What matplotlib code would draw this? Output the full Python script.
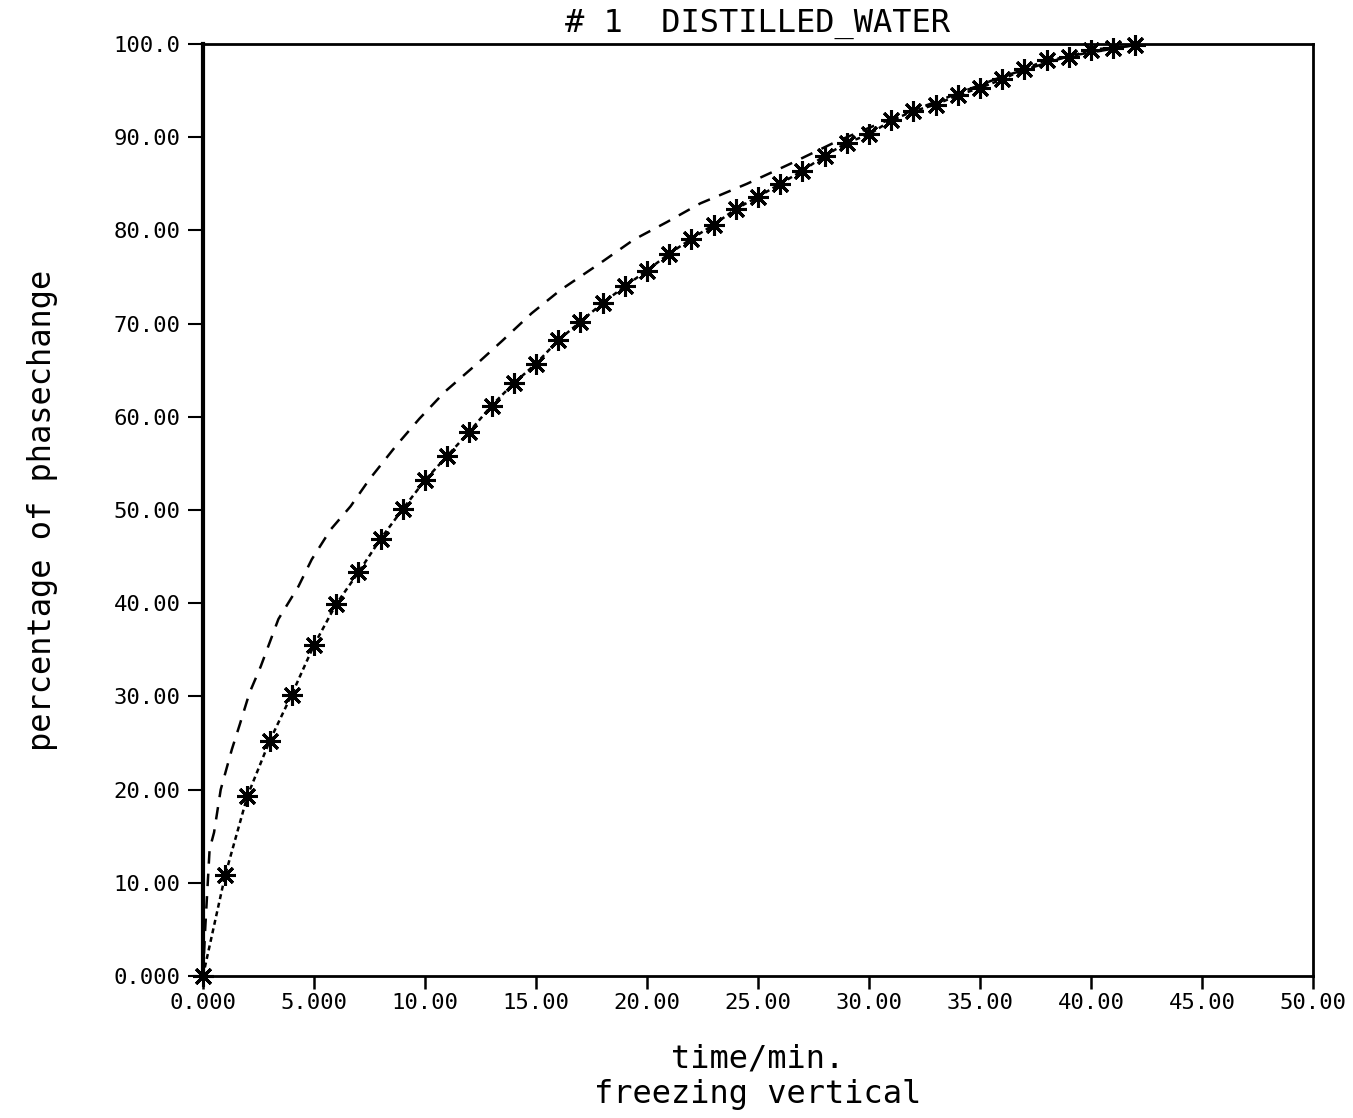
import matplotlib
matplotlib.use('Agg')
import matplotlib.pyplot as plt

# measured curve (asterisks), one reading per minute
time_min = [0, 1, 2, 3, 4, 5, 6, 7, 8, 9, 10, 11, 12, 13, 14, 15, 16, 17, 18, 19, 20,
            21, 22, 23, 24, 25, 26, 27, 28, 29, 30, 31, 32, 33, 34, 35, 36, 37, 38, 39,
            40, 41, 42]
pct_measured = [0.0, 10.8, 19.3, 25.2, 30.2, 35.5, 39.9, 43.3, 46.9, 50.1, 53.2, 55.8,
                58.4, 61.2, 63.6, 65.7, 68.2, 70.2, 72.2, 74.0, 75.7, 77.5, 79.1, 80.6,
                82.3, 83.6, 85.0, 86.4, 88.0, 89.4, 90.3, 91.8, 92.8, 93.5, 94.5, 95.3,
                96.2, 97.3, 98.3, 98.6, 99.4, 99.6, 99.9]

# calculated curve (dashed)
calc_time = [0.0, 0.1, 0.3, 0.5, 0.8, 1.3, 1.66, 2.1, 2.6, 3.4, 4.3, 4.9, 5.75, 6.65,
             7.5, 8.7, 9.75, 10.9, 12.3, 13.5, 14.8, 16.1, 17.9, 19.4, 20.9, 22.4, 24.5,
             26.5, 28.5, 30.5, 33.0, 36.0, 39.0, 42.0]
calc_pct = [0.0, 5.0, 13.6, 15.4, 20.0, 24.3, 27.0, 30.4, 33.2, 38.3, 41.8, 44.7, 47.9,
            50.4, 53.3, 56.9, 59.8, 62.7, 65.6, 68.2, 71.1, 73.6, 76.5, 79.0, 80.9, 82.9,
            85.0, 87.2, 89.5, 91.5, 93.8, 96.5, 98.7, 99.9]

x_ticks = [0, 5, 10, 15, 20, 25, 30, 35, 40, 45, 50]
x_labels = ['0.000', '5.000', '10.00', '15.00', '20.00', '25.00', '30.00', '35.00',
            '40.00', '45.00', '50.00']
y_ticks = [0, 10, 20, 30, 40, 50, 60, 70, 80, 90, 100]
y_labels = ['0.000', '10.00', '20.00', '30.00', '40.00', '50.00', '60.00', '70.00',
            '80.00', '90.00', '100.0']

mono = 'DejaVu Sans Mono'

fig = plt.figure(figsize=(13.53, 11.18), dpi=100)
ax = fig.add_axes([0.150, 0.127, 0.8204, 0.8336])

ax.plot(calc_time, calc_pct, color='black', linewidth=1.8, linestyle=(0, (5, 4)))
ax.plot(time_min, pct_measured, color='black', linewidth=1.8, linestyle=(0, (2, 1.5)),
        marker=(8, 2, 0), markersize=15, markeredgewidth=2.2, markeredgecolor='black',
        clip_on=False)

ax.set_xlim(0, 50)
ax.set_ylim(0, 100)
ax.set_xticks(x_ticks)
ax.set_xticklabels(x_labels, fontfamily=mono, fontsize=16)
ax.set_yticks(y_ticks)
ax.set_yticklabels(y_labels, fontfamily=mono, fontsize=16)
ax.tick_params(axis='x', direction='out', length=9, width=1.8, pad=3)
ax.tick_params(axis='y', direction='out', length=11, width=1.5, pad=5)

for side in ['top', 'right', 'bottom']:
    ax.spines[side].set_linewidth(2)
ax.spines['left'].set_linewidth(3)

ax.set_title('# 1  DISTILLED_WATER', fontfamily=mono, fontsize=23, pad=9)
ax.set_ylabel('percentage of phasechange', fontfamily=mono, fontsize=23, labelpad=40)
ax.set_xlabel('time/min.\nfreezing vertical', fontfamily=mono, fontsize=23,
              labelpad=22, linespacing=1.2)

fig.savefig('out.png', dpi=100, facecolor='white')
plt.close(fig)
